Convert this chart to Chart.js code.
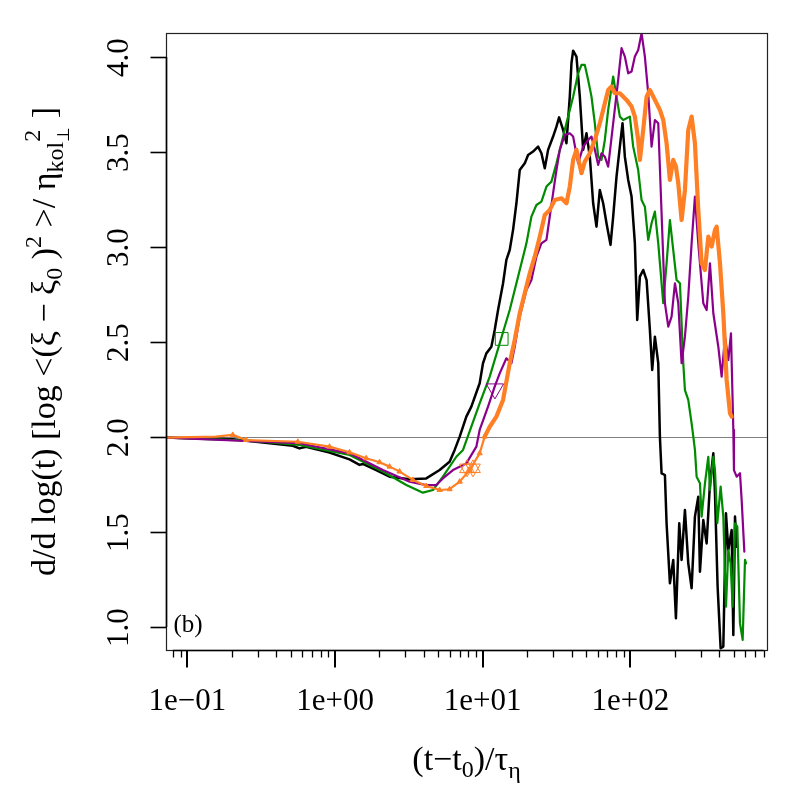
<!DOCTYPE html>
<html lang="en">
<head>
<meta charset="UTF-8">
<title>d/d log(t) panel (b)</title>
<script src="https://cdn.jsdelivr.net/npm/chart.js"></script>
<style>
  body { margin: 0; background: #fff; }
  .chart-box { width: 800px; height: 800px; }
</style>
</head>
<body>
<div class="chart-box"><canvas id="myChart"></canvas></div>
<script>
// values: [t, slope]
const blackPts = [[0.0717,1.997],[0.203,1.988],[0.518,1.954],[0.574,1.940],[0.637,1.949],[0.918,1.918],[1.254,1.882],[1.466,1.853],[1.544,1.858],[1.901,1.826],[2.342,1.791],[3.20,1.777],[4.15,1.782],[5.11,1.826],[5.97,1.870],[6.46,1.932],[6.99,2.002],[7.75,2.107],[8.38,2.160],[9.54,2.283],[10.05,2.388],[10.59,2.440],[11.45,2.475],[12.06,2.563],[12.71,2.668],[13.74,2.809],[14.47,2.932],[15.24,2.984],[16.06,3.090],[16.92,3.230],[17.82,3.405],[19.27,3.440],[20.30,3.484],[21.94,3.502],[23.72,3.528],[24.99,3.493],[26.33,3.414],[27.73,3.511],[29.98,3.581],[31.59,3.633],[32.92,3.682],[35.05,3.616],[36.92,3.546],[38.89,3.791],[39.92,3.967],[40.97,4.033],[43.16,4.002],[45.47,3.791],[47.90,3.511],[50.46,3.598],[53.15,3.475],[55.99,3.230],[58.97,3.107],[62.12,3.300],[65.44,3.230],[68.94,3.125],[73.38,3.011],[76.50,3.160],[80.59,3.370],[84.89,3.528],[88.51,3.651],[91.79,3.475],[96.69,3.353],[101.9,3.265],[107.3,3.019],[111.3,2.616],[116.0,2.844],[122.2,2.879],[128.8,2.826],[135.6,2.563],[140.6,2.353],[146.6,2.528],[154.5,2.388],[158.5,2.002],[162.7,1.809],[171.4,1.800],[175.9,1.546],[185.3,1.230],[195.2,1.353],[203.5,1.046],[214.3,1.546],[222.3,1.353],[234.2,1.616],[246.7,1.335],[259.9,1.204],[273.7,1.581],[288.4,1.686],[296.0,1.291],[311.8,1.563],[328.5,1.440],[346.0,1.756],[364.6,1.914],[374.1,1.704],[389.9,1.212],[408.6,0.888],[426.1,0.897],[444.1,1.598],[460.6,1.405],[485.3,1.511],[498.1,0.958],[511.3,1.581],[524.6,1.423]];

const greenPts = [[0.0717,1.997],[0.263,1.981],[0.574,1.958],[1.254,1.905],[2.11,1.818],[3.04,1.747],[3.94,1.707],[4.61,1.721],[5.38,1.791],[6.63,1.896],[7.36,1.932],[8.16,2.030],[9.54,2.177],[11.16,2.318],[13.04,2.493],[15.24,2.668],[16.92,2.809],[18.77,2.949],[19.78,3.019],[21.38,3.160],[23.11,3.221],[24.99,3.239],[27.02,3.318],[29.21,3.344],[31.59,3.440],[35.05,3.581],[37.89,3.686],[40.97,3.791],[44.30,3.914],[46.67,3.958],[49.16,3.958],[51.79,3.879],[54.55,3.791],[57.46,3.651],[60.53,3.475],[63.76,3.458],[67.17,3.563],[70.76,3.721],[76.50,3.897],[80.59,3.791],[84.89,3.686],[89.43,3.668],[99.24,3.686],[104.5,3.528],[113.0,3.405],[119.1,3.247],[125.4,3.212],[132.1,3.037],[139.2,3.125],[146.6,3.186],[154.5,3.019],[167.0,2.704],[175.9,2.914],[185.3,3.142],[195.2,2.984],[205.6,2.826],[216.7,2.809],[228.2,2.388],[234.2,2.247],[246.7,2.195],[259.9,2.072],[266.9,2.002],[273.7,1.932],[281.0,1.791],[296.0,1.756],[303.8,1.581],[320.0,1.756],[337.2,1.896],[346.0,1.721],[364.6,1.896],[374.1,1.826],[388.0,1.546],[408.6,1.739],[426.1,1.581],[444.1,1.107],[460.6,1.405],[477.6,1.335],[492.8,1.107],[511.3,1.546],[530.1,1.528],[552.6,1.019],[576.1,0.932],[597.5,1.353],[606.9,1.335]];

const purplePts = [[0.0717,1.997],[0.574,1.967],[1.254,1.914],[2.11,1.826],[3.20,1.765],[4.15,1.747],[4.85,1.747],[5.38,1.782],[6.29,1.826],[7.75,1.861],[9.06,1.949],[9.54,2.037],[10.87,2.160],[12.06,2.265],[13.04,2.335],[14.47,2.414],[15.65,2.388],[16.48,2.475],[17.82,2.633],[19.78,2.774],[21.38,2.826],[23.11,2.949],[24.99,3.019],[27.02,3.037],[28.46,3.160],[29.98,3.283],[31.59,3.405],[33.28,3.511],[35.97,3.590],[38.89,3.598],[40.97,3.581],[44.30,3.440],[47.90,3.528],[51.79,3.563],[54.55,3.581],[57.46,3.511],[60.53,3.432],[63.76,3.493],[67.17,3.475],[70.76,3.423],[76.50,3.651],[82.71,3.879],[87.13,4.046],[91.79,4.002],[96.69,3.914],[101.9,3.923],[107.3,4.002],[113.0,4.037],[119.1,4.125],[125.4,4.002],[132.1,3.809],[139.2,3.528],[146.6,3.668],[154.5,3.651],[162.7,3.177],[171.4,2.704],[180.6,2.581],[190.2,2.633],[200.4,2.809],[211.1,2.704],[222.3,2.388],[234.2,2.528],[246.7,2.738],[259.9,3.019],[273.7,3.265],[288.4,3.019],[311.8,2.704],[328.5,2.668],[346.0,2.914],[364.6,2.651],[394.1,2.475],[415.1,2.317],[437.3,2.528],[460.6,2.405],[480.2,2.546],[498.1,2.037],[503.0,1.826],[524.6,1.791],[552.6,1.809],[567.2,1.668],[591.4,1.397]];

// orange: thin early part (with small triangles), thick later part
const orangeEarlyPts = [[0.0717,1.997],[0.156,2.002],[0.203,2.011],[0.250,1.984],[0.560,1.975],[0.918,1.949],[1.254,1.919],[1.627,1.888],[2.003,1.867],[2.342,1.844],[2.736,1.818],[3.37,1.774],[4.15,1.742],[5.11,1.721],[5.97,1.725],[6.99,1.765],[8.16,1.826],[9.54,1.914],[10.32,2.002]];
const orangeLatePts = [[10.32,2.002],[11.16,2.054],[12.38,2.107],[13.74,2.195],[15.24,2.388],[16.48,2.511],[17.82,2.651],[19.27,2.756],[20.83,2.861],[22.52,2.949],[24.35,3.054],[26.33,3.168],[28.46,3.195],[30.77,3.247],[34.16,3.256],[36.92,3.230],[38.89,3.318],[40.97,3.458],[43.16,3.511],[46.67,3.388],[49.16,3.449],[53.15,3.493],[57.46,3.563],[62.12,3.651],[67.17,3.756],[70.76,3.826],[74.54,3.844],[78.52,3.809],[84.89,3.809],[94.21,3.774],[101.9,3.739],[107.3,3.686],[113.0,3.563],[116.0,3.458],[122.2,3.616],[128.8,3.791],[135.6,3.826],[146.6,3.774],[158.5,3.721],[167.0,3.668],[175.9,3.546],[185.3,3.353],[195.2,3.458],[203.5,3.423],[211.1,3.335],[222.3,3.142],[234.2,3.300],[246.7,3.616],[259.9,3.686],[273.7,3.546],[288.4,3.195],[303.8,2.914],[320.0,2.879],[337.2,3.054],[355.2,3.002],[374.1,3.090],[384.0,3.107],[404.5,2.914],[426.1,2.651],[448.8,2.300],[472.8,2.125],[485.3,2.107]];

// single symbols on the curves
const squareMark = [[13.45,2.516]];
const triangleMark = [[12.1,2.253]];
const starMarks = [[7.83,1.835],[8.60,1.835]];

const xRange = [0.0717, 842];
const yRange = [0.879, 4.126];
const refLine = 2;
const xMajor = [0.1, 1, 10, 100];
const xMajorLabels = ['1e\u221201', '1e+00', '1e+01', '1e+02'];
const yTicks = [1.0, 1.5, 2.0, 2.5, 3.0, 3.5, 4.0];
const yTickLabels = ['1.0', '1.5', '2.0', '2.5', '3.0', '3.5', '4.0'];
const panelTag = '(b)';

const BLACK = '#000000', GREEN = '#008b00', PURPLE = '#8b008b', ORANGE = '#ff7f24';
const FONT = '"Liberation Serif", "Times New Roman", serif';

function xy(pts) { return pts.map(p => ({ x: p[0], y: p[1] })); }

function curve(pts, color, width, order) {
  return { data: xy(pts), showLine: true, borderColor: color, borderWidth: width,
    pointRadius: 0, pointHoverRadius: 0, fill: false, tension: 0, order: order,
    borderJoinStyle: 'round', borderCapStyle: 'round' };
}
function mark(pts, color, style, radius, rotation) {
  return { data: xy(pts), showLine: false, pointStyle: style, pointRadius: radius,
    pointHoverRadius: radius, rotation: rotation || 0, borderColor: color,
    backgroundColor: 'rgba(0,0,0,0)', pointBorderWidth: 1, order: 0 };
}

const orangeEarly = curve(orangeEarlyPts, ORANGE, 2.2, 1);
orangeEarly.pointStyle = 'triangle';
orangeEarly.pointRadius = ctx => (ctx.raw && ctx.raw.x > 0.18 ? 3 : 0);
orangeEarly.pointBackgroundColor = ORANGE;
orangeEarly.pointBorderColor = ORANGE;
orangeEarly.pointBorderWidth = 1;

// draw a line of text with sub/superscripts, centred on (x, y)
function drawRich(ctx, parts, x, y) {
  let total = 0, cur = 0, prevStart = 0;
  const pos = [];
  parts.forEach(p => {
    ctx.font = p.s + 'px ' + FONT;
    const w = ctx.measureText(p.t).width;
    const start = p.stack ? prevStart : cur;
    pos.push(start);
    cur = Math.max(cur, start + w);
    prevStart = start;
  });
  total = cur;
  parts.forEach((p, i) => {
    ctx.font = p.s + 'px ' + FONT;
    ctx.fillText(p.t, x - total / 2 + pos[i], y + (p.dy || 0));
  });
}

const yTitle = [
  { t: 'd/d log(t) [log <(\u03be \u2212 \u03be', s: 34 },
  { t: '0', s: 24, dy: 7 },
  { t: ' )', s: 34 },
  { t: '2', s: 24, dy: -14 },
  { t: ' >/ \u03b7', s: 34 },
  { t: 'kol', s: 24, dy: 8 },
  { t: '\u22a5', s: 17, dy: 14 },
  { t: '2', s: 24, dy: -15, stack: true },
  { t: ' ]', s: 34 }
];
const xTitle = [
  { t: '(t\u2212t', s: 34 },
  { t: '0', s: 24, dy: 7 },
  { t: ')/\u03c4', s: 34 },
  { t: '\u03b7', s: 24, dy: 8 }
];

const axesPlugin = {
  id: 'axesPlugin',
  beforeDatasetsDraw(chart) {
    const { ctx, chartArea: a, scales: { y } } = chart;
    const py = Math.round(y.getPixelForValue(refLine)) + 0.5;
    ctx.save();
    ctx.strokeStyle = '#808080';
    ctx.lineWidth = 1;
    ctx.beginPath(); ctx.moveTo(a.left, py); ctx.lineTo(a.right, py); ctx.stroke();
    ctx.restore();
  },
  afterDraw(chart) {
    const { ctx, chartArea: a, scales: { x, y } } = chart;
    ctx.save();
    // box
    ctx.strokeStyle = '#222';
    ctx.lineWidth = 1.2;
    ctx.strokeRect(a.left + 0.5, a.top + 0.5, a.right - a.left, a.bottom - a.top);

    ctx.strokeStyle = '#000';
    ctx.fillStyle = '#000';
    // x axis: minor + major ticks
    const minors = [];
    for (let k = -2; k <= 2; k++) {
      for (let m = 2; m <= 9; m++) {
        const v = m * Math.pow(10, k);
        if (v >= xRange[0] && v <= xRange[1]) minors.push(v);
      }
    }
    const allX = minors.concat(xMajor).sort((p, q) => p - q);
    const b = a.bottom + 0.5;
    ctx.lineWidth = 1.6;
    ctx.beginPath();
    ctx.moveTo(x.getPixelForValue(allX[0]), b);
    ctx.lineTo(x.getPixelForValue(allX[allX.length - 1]), b);
    ctx.stroke();
    ctx.lineWidth = 1.3;
    minors.forEach(v => {
      const px = Math.round(x.getPixelForValue(v)) + 0.5;
      ctx.beginPath(); ctx.moveTo(px, b); ctx.lineTo(px, b + 7); ctx.stroke();
    });
    ctx.lineWidth = 2;
    xMajor.forEach(v => {
      const px = Math.round(x.getPixelForValue(v));
      ctx.beginPath(); ctx.moveTo(px, b); ctx.lineTo(px, b + 17); ctx.stroke();
    });
    ctx.font = '31px ' + FONT;
    ctx.textAlign = 'center';
    ctx.textBaseline = 'alphabetic';
    xMajor.forEach((v, i) => ctx.fillText(xMajorLabels[i], x.getPixelForValue(v), 710));

    // y axis
    const l = a.left + 0.5;
    ctx.lineWidth = 1.6;
    ctx.beginPath();
    ctx.moveTo(l, y.getPixelForValue(yTicks[0]));
    ctx.lineTo(l, y.getPixelForValue(yTicks[yTicks.length - 1]));
    ctx.stroke();
    yTicks.forEach((v, i) => {
      const py = Math.round(y.getPixelForValue(v)) + 0.5;
      ctx.beginPath(); ctx.moveTo(l - 16, py); ctx.lineTo(l, py); ctx.stroke();
      ctx.save();
      ctx.translate(128, py);
      ctx.rotate(-Math.PI / 2);
      ctx.fillText(yTickLabels[i], 0, 0);
      ctx.restore();
    });

    // titles
    ctx.textAlign = 'left';
    drawRich(ctx, xTitle, (a.left + a.right) / 2, 770);
    ctx.save();
    ctx.translate(55, (a.top + a.bottom) / 2);
    ctx.rotate(-Math.PI / 2);
    drawRich(ctx, yTitle, 0, 0);
    ctx.restore();

    // panel tag
    ctx.font = '25px ' + FONT;
    ctx.textAlign = 'center';
    ctx.fillText(panelTag, 188, 632);
    ctx.restore();
  }
};

const chart = new Chart(document.getElementById('myChart'), {
  type: 'scatter',
  data: {
    datasets: [
      curve(blackPts, BLACK, 2.5, 4),
      curve(greenPts, GREEN, 2.2, 3),
      curve(purplePts, PURPLE, 2.2, 2),
      orangeEarly,
      curve(orangeLatePts, ORANGE, 4.2, 1),
      mark(squareMark, GREEN, 'rect', 9),
      mark(triangleMark, PURPLE, 'triangle', 10, 180),
      mark(starMarks, ORANGE, 'triangle', 8.5, 0),
      mark(starMarks, ORANGE, 'triangle', 8.5, 180)
    ]
  },
  options: {
    responsive: true,
    maintainAspectRatio: false,
    animation: false,
    layout: { padding: { left: 166, right: 33, top: 33, bottom: 150 } },
    plugins: { legend: { display: false }, tooltip: { enabled: false } },
    scales: {
      x: { type: 'logarithmic', min: xRange[0], max: xRange[1], display: false },
      y: { type: 'linear', min: yRange[0], max: yRange[1], display: false }
    }
  },
  plugins: [axesPlugin]
});
</script>
</body>
</html>
